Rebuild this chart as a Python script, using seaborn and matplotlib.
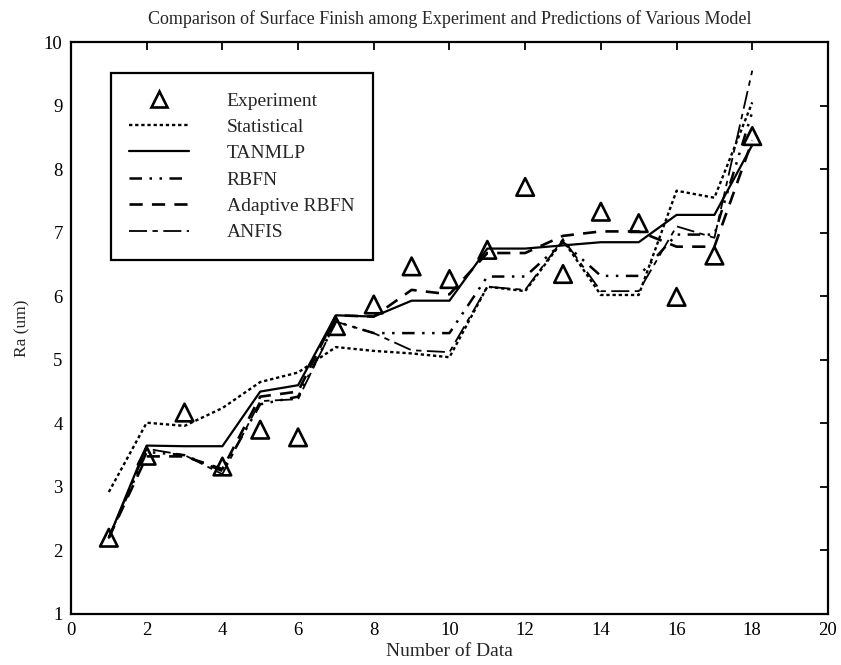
import matplotlib
matplotlib.use("Agg")
import matplotlib.pyplot as plt
import pandas as pd
import seaborn as sns
from matplotlib.lines import Line2D

data_no = list(range(1, 19))

experiment = [2.2, 3.49, 4.17, 3.32, 3.9, 3.78, 5.53, 5.87, 6.47, 6.27, 6.73, 7.72,
              6.35, 7.33, 7.15, 5.99, 6.64, 8.52]
statistical = [2.92, 4.01, 3.96, 4.24, 4.65, 4.8, 5.2, 5.14, 5.1, 5.04, 6.15, 6.08,
               6.88, 6.02, 6.02, 7.66, 7.55, 9.05]
tanmlp = [2.2, 3.65, 3.64, 3.64, 4.5, 4.6, 5.7, 5.68, 5.93, 5.93, 6.75, 6.75,
          6.8, 6.85, 6.85, 7.28, 7.28, 8.38]
rbfn = [2.2, 3.55, 3.5, 3.25, 4.3, 4.42, 5.6, 5.42, 5.42, 5.42, 6.31, 6.31,
        6.85, 6.32, 6.32, 6.97, 6.97, 8.9]
adaptive_rbfn = [2.2, 3.48, 3.48, 3.28, 4.42, 4.5, 5.7, 5.68, 6.1, 6.03, 6.68, 6.68,
                 6.95, 7.02, 7.02, 6.78, 6.78, 8.45]
anfis = [2.2, 3.6, 3.5, 3.2, 4.35, 4.38, 5.6, 5.42, 5.15, 5.12, 6.15, 6.1,
         6.9, 6.08, 6.08, 7.1, 6.92, 9.55]

models = ["Statistical", "TANMLP", "RBFN", "Adaptive RBFN", "ANFIS"]
predictions = [statistical, tanmlp, rbfn, adaptive_rbfn, anfis]

rows = []
for name, vals in zip(models, predictions):
    for n, v in zip(data_no, vals):
        rows.append({"Number of Data": n, "Ra (um)": v, "Model": name})
df = pd.DataFrame(rows)
df_exp = pd.DataFrame({"Number of Data": data_no, "Ra (um)": experiment})

styles = {
    "Statistical": dict(linestyle=(0, (1.4, 1.2)), linewidth=1.7),
    "TANMLP": dict(linestyle="-", linewidth=1.6),
    "RBFN": dict(linestyle=(0, (5, 3, 1, 3, 1, 3)), linewidth=1.8),
    "Adaptive RBFN": dict(linestyle=(0, (5, 3.5)), linewidth=1.9),
    "ANFIS": dict(linestyle=(0, (10, 3, 3, 3)), linewidth=1.3),
}

sns.set_style("white")
plt.rcParams["font.family"] = ["Liberation Serif", "DejaVu Serif"]

fig = plt.figure(figsize=(8.41, 6.65), dpi=100)
ax = fig.add_axes([0.0844, 0.0767, 0.9001, 0.8601])

for name in models:
    sns.lineplot(data=df[df["Model"] == name], x="Number of Data", y="Ra (um)",
                 color="black", ax=ax, legend=False, **styles[name])

sns.scatterplot(data=df_exp, x="Number of Data", y="Ra (um)", marker="^", s=160,
                facecolor="none", edgecolor="black", linewidth=1.9, ax=ax,
                legend=False, zorder=5)

ax.set_xlim(0, 20)
ax.set_ylim(1, 10)
ax.set_xticks(range(0, 21, 2))
ax.set_yticks(range(1, 11))
ax.tick_params(direction="in", length=6, width=1.3, top=True, right=True,
               labelsize=13.5, pad=6, colors="black")
for s in ax.spines.values():
    s.set_color("black")
    s.set_linewidth(1.6)

ax.set_xlabel("Number of Data", fontsize=14, labelpad=3)
ax.set_ylabel("Ra (um)", fontsize=12.5, labelpad=10)
ax.set_title("Comparison of Surface Finish among Experiment and Predictions of Various Model",
             fontsize=13, pad=13)

handles = [Line2D([], [], linestyle="none", marker="^", markersize=12,
                  markerfacecolor="none", markeredgecolor="black",
                  markeredgewidth=1.9)]
for name in models:
    handles.append(Line2D([], [], color="black", **styles[name]))
leg = ax.legend(handles, ["Experiment"] + models, loc="upper left",
                bbox_to_anchor=(0.04, 0.962), fontsize=14, handlelength=3.05,
                handletextpad=1.95, labelspacing=0.45, borderpad=0.95,
                fancybox=False, framealpha=1, edgecolor="black")
leg.get_frame().set_linewidth(1.6)

fig.savefig("out.png", dpi=100)
